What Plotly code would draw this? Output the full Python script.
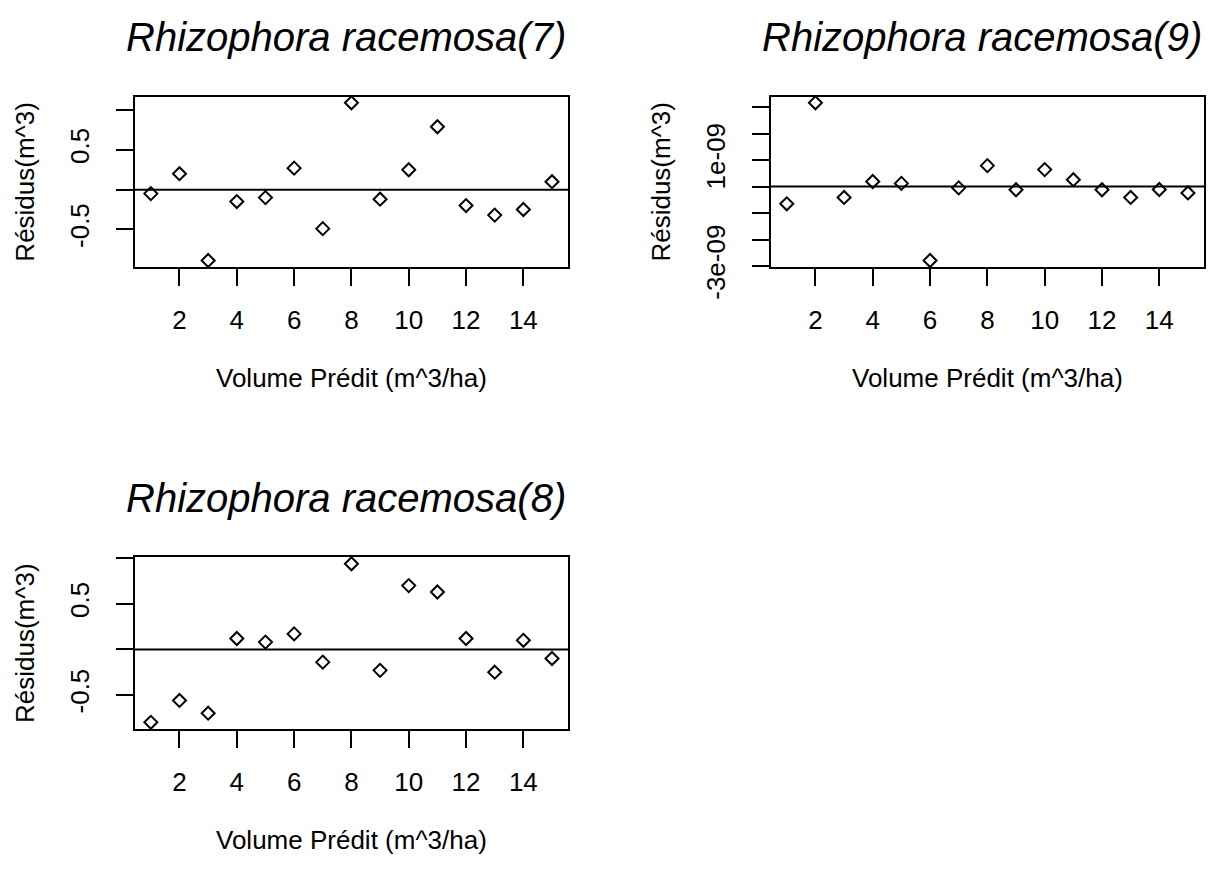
import plotly.graph_objects as go

# ---- data ----
volume_predit = [1, 2, 3, 4, 5, 6, 7, 8, 9, 10, 11, 12, 13, 14, 15]
residus_7 = [-0.05, 0.20, -0.89, -0.15, -0.10, 0.27, -0.49, 1.09, -0.12, 0.25, 0.79, -0.20, -0.32, -0.25, 0.10]
residus_9 = [-0.65e-9, 3.16e-9, -0.41e-9, 0.19e-9, 0.12e-9, -2.79e-9, -0.05e-9, 0.79e-9, -0.12e-9,
             0.64e-9, 0.26e-9, -0.12e-9, -0.41e-9, -0.11e-9, -0.24e-9]
residus_8 = [-0.80, -0.56, -0.70, 0.12, 0.08, 0.17, -0.14, 0.94, -0.23, 0.70, 0.63, 0.12, -0.25, 0.10, -0.10]

titles = ["Rhizophora racemosa(7)", "Rhizophora racemosa(9)", "Rhizophora racemosa(8)"]
xlab = "Volume Prédit (m^3/ha)"
ylab = "Résidus(m^3)"

x_ticks = [2, 4, 6, 8, 10, 12, 14]
y_ticks_a = [-0.5, 0, 0.5, 1.0]
y_ticktext_a = ["-0.5", "", "0.5", ""]
y_ticks_b = [-3e-9, -2e-9, -1e-9, 0, 1e-9, 2e-9, 3e-9]
y_ticktext_b = ["-3e-09", "", "", "", "1e-09", "", ""]

# page has an 8px body margin: shrink figure and shift layout accordingly
OFF = 8
W, H = 1214 - 2 * OFF, 888 - 2 * OFF
FONT = "Liberation Sans, Arial, sans-serif"


def rrange(v):
    lo, hi = min(v), max(v)
    d = (hi - lo) * 0.04
    return [lo - d, hi + d]


# panel boxes in reference pixels: (left, right, top, bottom)
boxes = [(135, 569, 100, 277), (772, 1206, 100, 277), (135, 569, 579, 757)]
series = [residus_7, residus_9, residus_8]
yt = [(y_ticks_a, y_ticktext_a), (y_ticks_b, y_ticktext_b), (y_ticks_a, y_ticktext_a)]


def px(x):
    return (x - OFF) / W


def py(y):
    return 1 - (y - OFF) / H


fig = go.Figure()
annotations = []
shapes = []
layout = dict(
    width=W, height=H,
    margin=dict(l=0, r=0, t=0, b=0),
    paper_bgcolor="white", plot_bgcolor="white",
    showlegend=False,
    font=dict(family=FONT, size=26, color="black"),
)

for i, (box, ys, (tv, tt), title) in enumerate(zip(boxes, series, yt, titles)):
    n = "" if i == 0 else str(i + 1)
    l, r, t, b = box
    xd = [px(l), px(r)]
    yd = [py(b), py(t)]
    fig.add_trace(go.Scatter(
        x=volume_predit, y=ys, mode="markers",
        marker=dict(symbol="diamond-open", size=10, color="black", line=dict(width=2, color="black")),
        xaxis="x" + n, yaxis="y" + n, cliponaxis=False,
    ))
    layout["xaxis" + n] = dict(
        domain=xd, anchor="y" + n, range=rrange(volume_predit),
        tickvals=x_ticks, ticktext=[str(v) for v in x_ticks],
        ticks="outside", ticklen=17, tickwidth=1.8, tickcolor="black",
        showline=True, linecolor="black", linewidth=2, mirror=True,
        showgrid=False, zeroline=False, tickangle=0,
        tickfont=dict(family=FONT, size=26, color="black"),
        ticklabelstandoff=12,
    )
    layout["yaxis" + n] = dict(
        domain=yd, anchor="x" + n, range=rrange(ys),
        tickvals=tv, ticktext=tt,
        ticks="outside", ticklen=17, tickwidth=1.8, tickcolor="black",
        showline=True, linecolor="black", linewidth=2, mirror=True,
        showgrid=False, zeroline=False, tickangle=-90,
        tickfont=dict(family=FONT, size=26, color="black"),
        ticklabelstandoff=16,
    )
    # horizontal reference line at zero
    shapes.append(dict(type="line", xref="x" + n + " domain", yref="y" + n,
                       x0=0, x1=1, y0=0, y1=0, line=dict(color="black", width=2)))
    cx = px((l + r) / 2)
    # title
    annotations.append(dict(text="<i>" + title + "</i>", xref="paper", yref="paper",
                            x=px((l + r) / 2 - 5), y=py(t - 62), xanchor="center", yanchor="middle",
                            showarrow=False, font=dict(family=FONT, size=40, color="black")))
    # x label
    annotations.append(dict(text=xlab, xref="paper", yref="paper",
                            x=cx, y=py(b + 116), xanchor="center", yanchor="middle",
                            showarrow=False, font=dict(family=FONT, size=26, color="black")))
    # y label
    annotations.append(dict(text=ylab, xref="paper", yref="paper",
                            x=px(l - 110), y=py((t + b) / 2), xanchor="center", yanchor="middle",
                            textangle=-90, showarrow=False,
                            font=dict(family=FONT, size=26, color="black")))

layout["annotations"] = annotations
layout["shapes"] = shapes
fig.update_layout(**layout)
fig.write_html("out.html")
